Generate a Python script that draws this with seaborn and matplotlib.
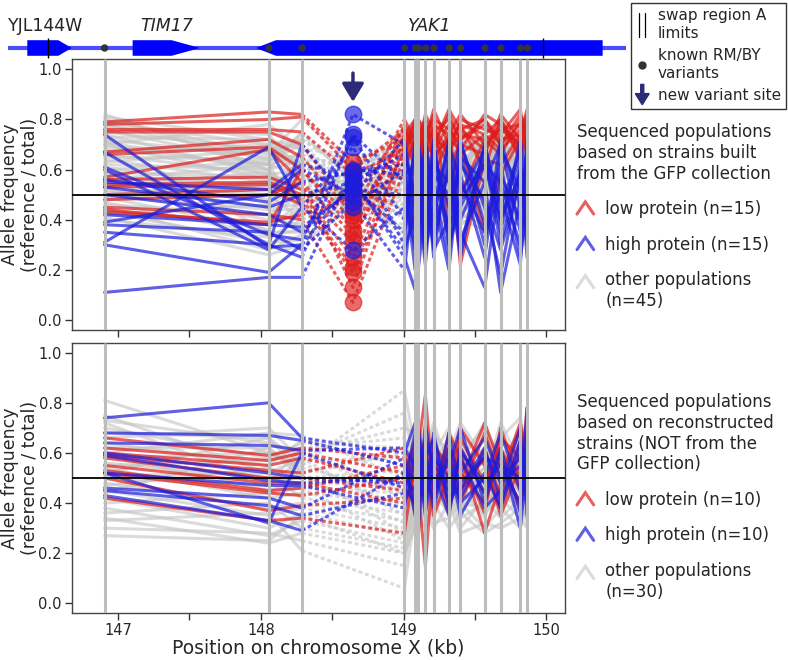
import numpy as np
import pandas as pd
import matplotlib
matplotlib.use("Agg")
import matplotlib.pyplot as plt
import seaborn as sns
from matplotlib.lines import Line2D
from matplotlib.patches import Polygon, FancyArrow
from matplotlib.legend_handler import HandlerBase

# --- positions (kb) ---
sites = [146.905, 148.054, 148.287, 149.005, 149.080, 149.102, 149.152, 149.210,
         149.317, 149.397, 149.567, 149.679, 149.817, 149.864]
new_site = 148.645
swap_limits = [146.509, 149.970]

# gene models: (name, start, body end, tip, italic)
genes = [("YJL144W", 146.364, 146.581, 146.675, False),
         ("TIM17", 147.101, 147.374, 147.572, True),
         ("YAK1", 150.390, 148.104, 147.964, True)]
gene_label_x = [146.495, 147.341, 149.182]
track_span = [146.23, 150.553]

# --- allele frequencies (%), top panel: 14 sites + new variant site (column 3) ---
top_low = [
    [79, 83, 82, 63, 72, 78, 70, 82, 75, 80, 72, 78, 70, 82, 75],
    [78, 80, 81, 60, 76, 68, 80, 72, 84, 70, 78, 74, 80, 68, 80],
    [76, 76, 75, 58, 68, 80, 74, 66, 78, 74, 82, 70, 76, 78, 72],
    [75, 75, 70, 43, 80, 72, 66, 78, 70, 84, 76, 80, 72, 74, 84],
    [67, 72, 65, 42, 70, 74, 78, 70, 66, 72, 68, 82, 78, 70, 76],
    [66, 69, 60, 36, 74, 66, 72, 80, 72, 68, 74, 72, 66, 80, 70],
    [57, 68, 55, 34, 66, 78, 68, 74, 80, 76, 70, 66, 82, 72, 78],
    [56, 57, 52, 31, 78, 70, 76, 45, 74, 66, 80, 76, 74, 84, 68],
    [54, 55, 50, 25, 72, 64, 80, 76, 68, 78, 66, 74, 68, 76, 82],
    [53, 54, 48, 21, 68, 76, 62, 72, 82, 40, 76, 68, 78, 66, 74],
    [50, 52, 46, 19, 64, 70, 74, 66, 70, 82, 72, 80, 70, 78, 72],
    [48, 50, 55, 13, 70, 62, 66, 78, 64, 74, 50, 72, 76, 70, 80],
    [45, 42, 40, 7, 60, 72, 58, 70, 76, 68, 22, 64, 62, 74, 66],
    [43, 39, 42, 49, 76, 68, 74, 62, 58, 72, 78, 60, 80, 64, 78],
    [44, 38, 60, 40, 74, 80, 64, 76, 72, 62, 70, 35, 58, 72, 76],
]
top_high = [
    [74, 29, 30, 82, 70, 40, 62, 25, 70, 35, 66, 30, 72, 45, 60],
    [67, 30, 25, 74, 55, 20, 72, 48, 30, 62, 28, 70, 40, 66, 35],
    [61, 34, 32, 73, 40, 66, 30, 70, 52, 25, 70, 45, 18, 60, 50],
    [60, 28, 45, 69, 30, 72, 45, 60, 25, 68, 40, 62, 55, 30, 70],
    [56, 47, 55, 59, 62, 35, 68, 30, 66, 45, 58, 25, 68, 52, 38],
    [55, 52, 62, 57, 25, 12, 58, 40, 72, 30, 50, 68, 35, 72, 55],
    [53, 45, 50, 55, 66, 50, 25, 65, 40, 72, 32, 55, 11, 48, 66],
    [50, 42, 35, 53, 35, 60, 48, 22, 58, 50, 72, 38, 62, 25, 45],
    [42, 38, 37, 52, 50, 28, 70, 55, 35, 60, 25, 70, 45, 68, 30],
    [39, 50, 60, 50, 72, 45, 35, 72, 48, 20, 62, 48, 28, 55, 62],
    [38, 35, 28, 47, 20, 55, 62, 35, 62, 55, 35, 13, 58, 40, 72],
    [35, 30, 70, 45, 60, 30, 52, 68, 28, 40, 65, 55, 70, 35, 48],
    [31, 69, 45, 28, 45, 68, 38, 50, 65, 30, 45, 65, 30, 62, 25],
    [30, 19, 30, 55, 28, 42, 66, 28, 45, 70, 55, 35, 50, 22, 55],
    [11, 17, 17, 60, 58, 62, 20, 45, 55, 38, 48, 62, 40, 58, 42],
]
top_other = [
    [82, 60, 75, 55, 70, 62, 75, 58, 72, 66, 60, 74, 62, 70, 64],
    [81, 72, 68, 50, 62, 74, 60, 70, 64, 58, 72, 66, 74, 60, 72],
    [80, 66, 80, 62, 75, 58, 68, 74, 60, 70, 64, 58, 68, 74, 60],
    [79, 70, 62, 48, 58, 70, 64, 62, 76, 62, 70, 72, 60, 66, 75],
    [78, 64, 72, 58, 68, 60, 72, 66, 58, 74, 58, 64, 72, 58, 68],
    [77, 74, 58, 45, 64, 76, 56, 72, 68, 60, 76, 60, 66, 72, 62],
    [76, 62, 66, 60, 72, 64, 70, 55, 72, 66, 62, 70, 56, 68, 70],
    [75, 68, 70, 52, 55, 68, 62, 76, 62, 72, 56, 66, 70, 62, 58],
    [74, 58, 60, 64, 70, 56, 74, 64, 70, 56, 68, 58, 74, 70, 66],
    [73, 72, 55, 42, 60, 72, 58, 60, 66, 76, 62, 74, 64, 56, 72],
    [72, 65, 74, 56, 76, 62, 66, 70, 56, 64, 74, 62, 58, 74, 62],
    [71, 60, 64, 50, 52, 66, 72, 58, 74, 60, 58, 68, 72, 64, 56],
    [70, 78, 68, 66, 66, 58, 64, 72, 62, 70, 66, 56, 64, 70, 68],
    [70, 56, 52, 47, 58, 70, 56, 64, 68, 54, 70, 64, 56, 62, 74],
    [69, 67, 62, 58, 72, 64, 68, 56, 58, 68, 62, 72, 68, 56, 64],
    [68, 62, 58, 44, 48, 60, 62, 70, 64, 62, 54, 60, 74, 66, 58],
    [67, 70, 72, 61, 68, 74, 54, 62, 72, 58, 68, 54, 62, 72, 66],
    [66, 58, 48, 53, 62, 52, 70, 58, 60, 72, 60, 70, 58, 60, 70],
    [65, 64, 66, 40, 56, 66, 60, 66, 54, 66, 72, 62, 66, 68, 60],
    [64, 55, 56, 57, 70, 58, 66, 54, 66, 60, 56, 66, 70, 58, 62],
    [63, 68, 62, 49, 64, 62, 52, 68, 62, 52, 64, 58, 54, 64, 56],
    [62, 60, 45, 54, 52, 56, 64, 60, 56, 64, 58, 72, 62, 54, 66],
    [61, 52, 64, 63, 66, 70, 58, 52, 64, 58, 66, 52, 60, 66, 58],
    [60, 63, 70, 46, 60, 54, 62, 64, 52, 68, 52, 62, 56, 60, 64],
    [59, 57, 54, 59, 58, 64, 50, 58, 60, 54, 60, 56, 64, 52, 60],
    [58, 48, 60, 51, 44, 50, 58, 62, 54, 60, 50, 64, 52, 58, 54],
    [57, 54, 50, 43, 62, 60, 56, 50, 58, 50, 62, 54, 58, 62, 52],
    [56, 62, 42, 56, 54, 48, 60, 56, 50, 62, 54, 50, 62, 56, 58],
    [55, 50, 58, 48, 50, 58, 48, 60, 56, 48, 58, 60, 50, 54, 62],
    [54, 45, 46, 61, 56, 52, 62, 48, 62, 56, 48, 56, 54, 50, 56],
    [53, 59, 52, 52, 46, 56, 54, 58, 48, 52, 56, 48, 60, 58, 50],
    [52, 40, 38, 45, 52, 44, 50, 54, 58, 46, 52, 58, 48, 52, 54],
    [51, 53, 56, 55, 60, 50, 56, 46, 52, 58, 46, 52, 56, 48, 58],
    [50, 44, 44, 50, 42, 54, 46, 56, 46, 54, 50, 46, 52, 56, 48],
    [49, 36, 48, 58, 48, 46, 52, 50, 54, 44, 56, 50, 46, 50, 52],
    [48, 50, 40, 47, 54, 42, 48, 52, 44, 52, 44, 54, 50, 46, 56],
    [47, 34, 36, 53, 44, 50, 44, 48, 50, 48, 52, 44, 54, 44, 50],
    [46, 42, 50, 42, 50, 40, 52, 44, 42, 50, 42, 52, 44, 52, 46],
    [45, 28, 34, 57, 40, 48, 42, 50, 48, 42, 50, 42, 48, 46, 44],
    [44, 38, 44, 49, 46, 38, 46, 42, 52, 46, 40, 48, 42, 48, 52],
    [43, 31, 32, 44, 38, 44, 40, 46, 40, 44, 46, 40, 46, 42, 48],
    [42, 46, 54, 52, 34, 46, 38, 42, 46, 38, 44, 46, 40, 50, 42],
    [41, 26, 30, 46, 42, 36, 44, 38, 42, 48, 38, 44, 38, 44, 46],
    [40, 33, 40, 50, 36, 42, 36, 44, 38, 40, 42, 38, 44, 40, 40],
    [72, 35, 35, 54, 32, 40, 42, 36, 44, 36, 40, 36, 40, 38, 44],
]

# --- bottom panel: 14 sites only ---
bot_low = [
    [66, 59, 62, 58, 48, 62, 83, 45, 62, 44, 68, 50, 72, 60],
    [62, 57, 60, 52, 65, 45, 15, 58, 40, 66, 48, 62, 45, 78],
    [60, 55, 58, 48, 55, 72, 48, 62, 56, 40, 62, 42, 65, 52],
    [59, 53, 52, 62, 42, 55, 66, 40, 68, 58, 36, 70, 48, 62],
    [58, 50, 50, 45, 60, 40, 58, 52, 45, 70, 55, 38, 60, 46],
    [55, 48, 48, 40, 52, 68, 38, 65, 50, 48, 72, 55, 40, 68],
    [53, 45, 46, 55, 36, 50, 62, 42, 58, 62, 44, 66, 58, 50],
    [52, 44, 43, 50, 64, 42, 52, 58, 36, 60, 28, 48, 70, 42],
    [50, 37, 39, 42, 46, 58, 44, 48, 62, 52, 40, 58, 38, 64],
    [42, 33, 34, 28, 58, 36, 56, 35, 52, 45, 58, 35, 55, 48],
]
bot_high = [
    [74, 80, 66, 60, 72, 45, 58, 66, 38, 60, 48, 55, 40, 78],
    [68, 67, 65, 55, 40, 70, 50, 42, 68, 45, 62, 40, 65, 50],
    [64, 63, 61, 62, 55, 38, 72, 50, 55, 70, 40, 62, 36, 62],
    [60, 52, 50, 48, 68, 52, 40, 60, 45, 52, 66, 50, 58, 45],
    [59, 49, 48, 50, 45, 62, 55, 38, 62, 40, 50, 68, 45, 68],
    [52, 47, 47, 38, 58, 48, 65, 55, 48, 58, 38, 45, 70, 35],
    [46, 42, 38, 58, 35, 56, 42, 68, 40, 48, 58, 55, 50, 60],
    [45, 39, 35, 44, 62, 30, 60, 45, 58, 35, 52, 38, 62, 48],
    [43, 33, 29, 52, 50, 66, 45, 52, 35, 62, 44, 60, 30, 55],
    [52, 32, 60, 46, 40, 55, 35, 58, 50, 42, 60, 48, 55, 40],
]
bot_other = [
    [81, 60, 55, 85, 62, 70, 55, 68, 60, 72, 58, 66, 74, 62],
    [75, 52, 58, 76, 55, 64, 70, 52, 66, 58, 70, 55, 62, 70],
    [73, 64, 60, 70, 68, 52, 62, 72, 54, 64, 50, 72, 56, 64],
    [72, 48, 62, 66, 50, 66, 56, 60, 70, 50, 66, 58, 68, 52],
    [70, 58, 64, 62, 64, 58, 68, 48, 58, 68, 56, 62, 50, 66],
    [68, 66, 52, 60, 56, 70, 50, 64, 50, 56, 72, 48, 64, 58],
    [66, 70, 57, 58, 70, 48, 64, 56, 66, 46, 54, 66, 58, 50],
    [64, 55, 65, 55, 48, 60, 54, 70, 44, 62, 48, 54, 70, 60],
    [62, 62, 50, 53, 60, 54, 66, 46, 60, 54, 62, 50, 52, 68],
    [60, 68, 67, 50, 52, 64, 46, 58, 52, 66, 46, 64, 60, 48],
    [59, 45, 48, 47, 66, 44, 58, 52, 64, 48, 58, 44, 66, 56],
    [58, 60, 54, 45, 44, 56, 52, 62, 46, 58, 44, 58, 48, 62],
    [56, 50, 46, 44, 58, 50, 60, 44, 56, 42, 60, 52, 54, 44],
    [55, 57, 60, 42, 50, 62, 44, 54, 48, 60, 40, 56, 44, 58],
    [54, 42, 44, 40, 62, 46, 56, 50, 58, 44, 52, 42, 58, 50],
    [52, 66, 56, 38, 46, 54, 48, 58, 42, 52, 56, 60, 46, 54],
    [51, 52, 42, 36, 54, 42, 62, 46, 54, 38, 48, 46, 52, 42],
    [50, 47, 58, 35, 40, 58, 42, 50, 40, 56, 42, 54, 40, 56],
    [48, 38, 40, 33, 56, 46, 54, 40, 52, 46, 54, 38, 56, 46],
    [47, 54, 50, 32, 44, 50, 38, 56, 44, 40, 38, 50, 42, 52],
    [45, 35, 38, 30, 52, 40, 50, 42, 48, 50, 44, 40, 48, 38],
    [44, 62, 52, 28, 38, 48, 44, 36, 56, 36, 50, 46, 36, 48],
    [42, 30, 36, 27, 48, 36, 52, 46, 38, 48, 34, 52, 44, 40],
    [40, 44, 46, 25, 34, 44, 40, 50, 42, 42, 46, 36, 50, 44],
    [38, 27, 33, 24, 46, 38, 46, 34, 50, 34, 40, 48, 38, 36],
    [36, 40, 30, 22, 40, 32, 38, 44, 36, 44, 36, 42, 34, 46],
    [34, 24, 28, 20, 30, 42, 34, 38, 46, 30, 42, 34, 42, 32],
    [33, 36, 21, 6, 36, 30, 42, 32, 34, 40, 30, 38, 30, 40],
    [30, 28, 25, 15, 42, 35, 30, 40, 30, 36, 28, 32, 38, 34],
    [27, 25, 35, 20, 32, 28, 36, 30, 40, 28, 32, 30, 34, 30],
]

RED, BLUE, GREY = "#dd1c1c", "#1c1cdd", "#c4c4c4"
NAVY = "#2b2b78"


def long_table(rows, positions, dash_end):
    # solid up to 148.29 kb, dashed across the gap, solid inside YAK1
    recs = []
    for i, row in enumerate(rows):
        for seg, lo, hi in (("solid", 0, 2), ("dash", 2, dash_end), ("solid", dash_end, len(row) - 1)):
            for j in range(lo, hi + 1):
                recs.append((f"{i}-{lo}", positions[j], row[j] / 100, seg))
    return pd.DataFrame(recs, columns=["unit", "pos", "freq", "seg"])


class Glyph(HandlerBase):
    def __init__(self, kind, color="k", dy=0.0):
        super().__init__()
        self.kind, self.color, self.dy = kind, color, dy

    def create_artists(self, legend, orig_handle, xdescent, ydescent, width, height, fontsize, trans):
        cx = width / 2 - xdescent
        cy = height / 2 - ydescent + self.dy
        if self.kind == "chevron":
            arts = [Line2D([cx - width / 2, cx, cx + width / 2],
                           [cy - height * 0.5, cy + height * 0.55, cy - height * 0.5],
                           color=self.color, lw=2.2, alpha=0.7 if self.color != GREY else 0.6,
                           solid_joinstyle="miter")]
        elif self.kind == "swap":
            arts = [Line2D([cx + d, cx + d], [cy - height * 1.1, cy + height * 1.1], color="k", lw=0.9)
                    for d in (-2.0, 2.0)]
        elif self.kind == "dot":
            arts = [Line2D([cx], [cy], marker="o", ms=5, color="#333333", ls="")]
        else:
            arts = [FancyArrow(cx, cy + height * 1.0, 0, -height * 1.9, width=2.2, head_width=10,
                               head_length=8, length_includes_head=True, color=NAVY)]
        for a in arts:
            a.set_transform(trans)
        return arts


sns.set_style("ticks")
plt.rcParams["font.family"] = ["DejaVu Sans"]

fig = plt.figure(figsize=(7.88, 6.6), dpi=100)
ax_top = fig.add_axes([71.7 / 788, 1 - 330 / 660, 493.3 / 788, 270.7 / 660])
ax_bot = fig.add_axes([71.7 / 788, 1 - 613.3 / 660, 493.3 / 788, 270.6 / 660])

top_pos = sites[:3] + [new_site] + sites[3:]
panels = [
    (ax_top, top_pos, 4, [(top_other, GREY, 0.6), (top_low, RED, 0.7), (top_high, BLUE, 0.7)]),
    (ax_bot, sites, 3, [(bot_other, GREY, 0.6), (bot_low, RED, 0.7), (bot_high, BLUE, 0.7)]),
]
for ax, pos, dash_end, groups in panels:
    for rows, col, a in groups:
        df = long_table(rows, pos, dash_end)
        sns.lineplot(data=df, x="pos", y="freq", units="unit", estimator=None, style="seg",
                     style_order=["solid", "dash"], dashes={"solid": "", "dash": (1.3, 0.9)},
                     color=col, lw=2.2, alpha=a, sort=False, legend=False, ax=ax, zorder=2)
    ax.vlines(sites, -0.04, 1.04, color="#bdbdbd", lw=2.2, zorder=3)
    ax.axhline(0.5, color="black", lw=1.3, zorder=4)
    ax.set_xlim(146.675, 150.13)
    ax.set_ylim(-0.04, 1.04)
    ax.set_yticks(np.arange(0, 1.01, 0.2))
    ax.set_yticklabels([f"{v:.1f}" for v in np.arange(0, 1.01, 0.2)])
    ax.set_xticks(np.arange(147, 150.01, 0.5))
    ax.set_xticklabels(["147", "", "148", "", "149", "", "150"])
    ax.tick_params(labelsize=10.5, length=5, width=1, pad=2, color="#333333")
    for sp in ax.spines.values():
        sp.set_color("#444444")
        sp.set_linewidth(1)
    ax.set_xlabel("")
    ax.set_ylabel("")

ax_top.tick_params(axis="x", labelbottom=False)

# new variant site circles + arrow
for rows, col in ((top_low, RED), (top_high, BLUE)):
    sns.scatterplot(x=[new_site] * len(rows), y=[r[3] / 100 for r in rows], color=col, s=140,
                    alpha=0.65, edgecolor=col, linewidth=1, ax=ax_top, zorder=5, legend=False)
ax_top.set_xlabel("")
ax_top.set_ylabel("")
ax_top.annotate("", xy=(new_site, 0.87), xytext=(new_site, 0.985),
                arrowprops=dict(arrowstyle="-|>,head_width=0.3,head_length=0.5", color=NAVY,
                                lw=2.5, mutation_scale=22, shrinkA=0, shrinkB=0), zorder=6)

ax_bot.set_xlabel("Position on chromosome X (kb)", fontsize=13.5, labelpad=0)
for yc in (194.6, 478):
    fig.text(20 / 788, 1 - yc / 660, "Allele frequency\n(reference / total)", rotation=90,
             ha="center", va="center", fontsize=12.5)

# gene track
ax_t = fig.add_axes([0, 1 - 60 / 660, 1, 24 / 660])
ax_t.set_xlim(146.173, 151.687)
ax_t.set_ylim(-1, 1)
ax_t.axis("off")
ax_t.plot(track_span, [0, 0], color="blue", alpha=0.7, lw=3, solid_capstyle="butt", zorder=1)
hh = 0.65
for (name, a, b, tip, ital), lx in zip(genes, gene_label_x):
    ax_t.add_patch(Polygon([(a, -hh), (b, -hh), (tip, 0), (b, hh), (a, hh)], closed=True,
                           facecolor="blue", edgecolor="none", zorder=2))
    ax_t.text(lx, 1.85, name, ha="center", va="center", fontsize=12.5,
              style="italic" if ital else "normal", clip_on=False)
sns.scatterplot(x=sites, y=[0] * len(sites), color="#333333", s=28, edgecolor="none",
                ax=ax_t, zorder=4, legend=False)
ax_t.vlines(swap_limits, -0.8, 0.8, color="black", lw=1, zorder=5)
ax_t.set_xlabel("")
ax_t.set_ylabel("")

# right-hand legends
legend_specs = [
    (ax_top, 1 - 123 / 660, "Sequenced populations\nbased on strains built\nfrom the GFP collection", 15, 45),
    (ax_bot, 1 - 393 / 660, "Sequenced populations\nbased on reconstructed\nstrains (NOT from the\nGFP collection)", 10, 30),
]
for ax, ytop, title, n_hl, n_other in legend_specs:
    hs = [Line2D([], [], color=c) for c in (RED, BLUE, GREY)]
    labels = [f"low protein (n={n_hl})", f"high protein (n={n_hl})", f"other populations\n(n={n_other})"]
    hmap = {hs[0]: Glyph("chevron", RED), hs[1]: Glyph("chevron", BLUE),
            hs[2]: Glyph("chevron", GREY, dy=7)}
    ax.legend(hs, labels, handler_map=hmap, title=title, loc="upper left",
              bbox_to_anchor=(577 / 788, ytop), bbox_transform=fig.transFigure,
              frameon=False, fontsize=12, title_fontsize=12, alignment="left",
              labelspacing=1.05, handlelength=1.0, handletextpad=0.7, borderaxespad=0,
              borderpad=0)

# top-right key
kh = [Line2D([], []), Line2D([], [], marker="o"), Line2D([], [], lw=3)]
fig.legend(kh, ["swap region A\nlimits", "known RM/BY\nvariants", "new variant site"],
           handler_map={kh[0]: Glyph("swap"), kh[1]: Glyph("dot"), kh[2]: Glyph("arrow")},
           loc="upper right", bbox_to_anchor=(786 / 788, 1 - 3 / 660), borderaxespad=0,
           fancybox=False, edgecolor="#333333", framealpha=1, fontsize=11,
           labelspacing=0.5, handlelength=0.8, handletextpad=0.6, borderpad=0.35)

fig.savefig("out.png", dpi=100)
